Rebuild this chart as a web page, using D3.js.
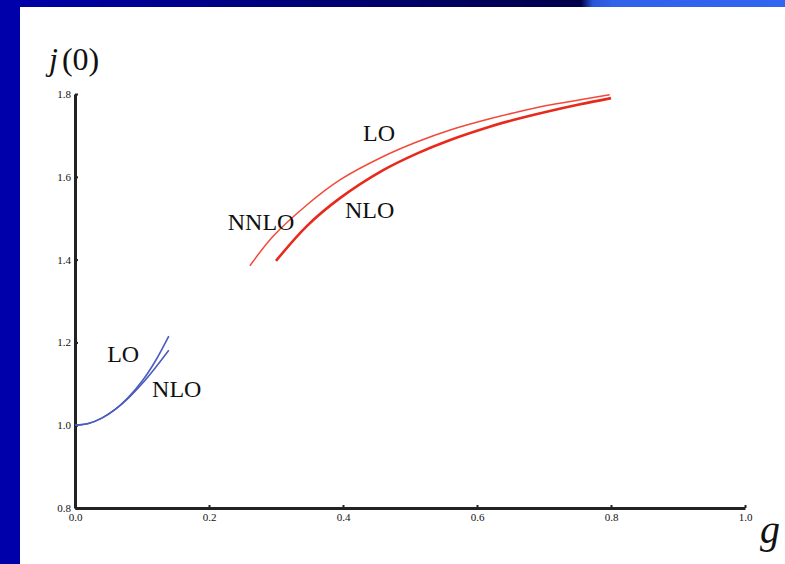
<!DOCTYPE html>
<html>
<head>
<meta charset="utf-8">
<script src="https://cdn.jsdelivr.net/npm/d3@7"></script>
<style>
  body { margin: 0; background: #fff; }
  svg { display: block; }
  .tick text { font-family: "Liberation Serif", "DejaVu Serif", serif; }
</style>
</head>
<body>
<div id="chart"></div>
<script>
// values
const xTicks = [0.0, 0.2, 0.4, 0.6, 0.8, 1.0];
const yTicks = [0.8, 1.0, 1.2, 1.4, 1.6, 1.8];

// small-g branch (blue)
const gSmall = [0.00, 0.02, 0.04, 0.06, 0.08, 0.10, 0.12, 0.14];
const loSmall = [1.000, 1.004, 1.017, 1.038, 1.068, 1.106, 1.155, 1.215];
const nloSmall = [1.000, 1.004, 1.017, 1.038, 1.066, 1.100, 1.139, 1.181];

// large-g branch (red)
const gLo = [0.261, 0.296, 0.346, 0.396, 0.460, 0.510, 0.560, 0.619, 0.654, 0.704, 0.754, 0.798];
const loLarge = [1.385, 1.457, 1.532, 1.593, 1.649, 1.684, 1.713, 1.740, 1.754, 1.772, 1.786, 1.798];
const gNlo = [0.300, 0.346, 0.396, 0.460, 0.510, 0.560, 0.619, 0.654, 0.704, 0.754, 0.800];
const nloLarge = [1.397, 1.481, 1.549, 1.616, 1.656, 1.689, 1.721, 1.737, 1.757, 1.775, 1.790];

const labels = [
  { text: "LO", g: 0.43, j: 1.686 },
  { text: "NNLO", g: 0.228, j: 1.471 },
  { text: "NLO", g: 0.403, j: 1.500 },
  { text: "LO", g: 0.048, j: 1.153 },
  { text: "NLO", g: 0.115, j: 1.068 }
];

const width = 785, height = 564;

const svg = d3.select("#chart").append("svg")
    .attr("width", width)
    .attr("height", height);

// slide frame: top banner + left bar
const defs = svg.append("defs");
const grad = defs.append("linearGradient")
    .attr("id", "banner")
    .attr("x1", 0).attr("x2", 1).attr("y1", 0).attr("y2", 0);
grad.append("stop").attr("offset", "0%").attr("stop-color", "#0000aa");
grad.append("stop").attr("offset", "74%").attr("stop-color", "#00004a");
grad.append("stop").attr("offset", "75.5%").attr("stop-color", "#2a55d8");
grad.append("stop").attr("offset", "78%").attr("stop-color", "#3062ea");
grad.append("stop").attr("offset", "100%").attr("stop-color", "#3366f0");

svg.append("rect").attr("x", 0).attr("y", 0).attr("width", width).attr("height", 7)
    .attr("fill", "url(#banner)");
svg.append("rect").attr("x", 0).attr("y", 0).attr("width", 20).attr("height", height)
    .attr("fill", "#0000aa");

// scales
const x = d3.scaleLinear().domain([0, 1]).range([75, 745]);
const y = d3.scaleLinear().domain([0.8, 1.8]).range([508, 94]);

// axes
const xAxis = svg.append("g")
    .attr("transform", `translate(0,${y(0.8)})`)
    .call(d3.axisBottom(x).tickValues(xTicks).tickFormat(d3.format(".1f"))
      .tickSizeInner(-3).tickSizeOuter(0).tickPadding(6));
const yAxis = svg.append("g")
    .attr("transform", `translate(${x(0)},0)`)
    .call(d3.axisLeft(y).tickValues(yTicks).tickFormat(d3.format(".1f"))
      .tickSizeInner(-3).tickSizeOuter(0).tickPadding(4));

[xAxis, yAxis].forEach(ax => {
  ax.select(".domain").attr("stroke", "#222").attr("stroke-width", 3);
  ax.selectAll(".tick line").attr("stroke", "#222").attr("stroke-width", 2);
  ax.selectAll(".tick text").attr("fill", "#111").style("font-size", "11px");
});
xAxis.selectAll(".tick text").attr("dy", "0.6em");

// curves
const line = d3.line()
    .x(d => x(d[0]))
    .y(d => y(d[1]))
    .curve(d3.curveCatmullRom);

const series = [
  { g: gSmall, j: loSmall, color: "#4a5cc0", w: 1.6 },
  { g: gSmall, j: nloSmall, color: "#4a5cc0", w: 1.6 },
  { g: gLo, j: loLarge, color: "#f24a3a", w: 1.5 },
  { g: gNlo, j: nloLarge, color: "#e82a1c", w: 2.6 }
];

svg.selectAll(".curve")
  .data(series)
  .join("path")
    .attr("class", "curve")
    .attr("fill", "none")
    .attr("stroke", d => d.color)
    .attr("stroke-width", d => d.w)
    .attr("d", d => line(d.g.map((g, i) => [g, d.j[i]])));

// curve labels
svg.selectAll(".lbl")
  .data(labels)
  .join("text")
    .attr("class", "lbl")
    .attr("x", d => x(d.g))
    .attr("y", d => y(d.j))
    .attr("font-family", "Liberation Serif, serif")
    .attr("font-size", 24)
    .attr("fill", "#111")
    .text(d => d.text);

// axis titles
const yTitle = svg.append("text")
    .attr("x", 49)
    .attr("y", 70)
    .attr("font-family", "Liberation Serif, serif")
    .attr("font-size", 32)
    .attr("fill", "#111");
yTitle.append("tspan").attr("font-style", "italic").text("j");
yTitle.append("tspan").attr("dx", 4).text("(0)");

svg.append("text")
    .attr("x", 760)
    .attr("y", 543)
    .attr("font-family", "Liberation Serif, serif")
    .attr("font-style", "italic")
    .attr("font-size", 40)
    .attr("fill", "#111")
    .text("g");
</script>
</body>
</html>
